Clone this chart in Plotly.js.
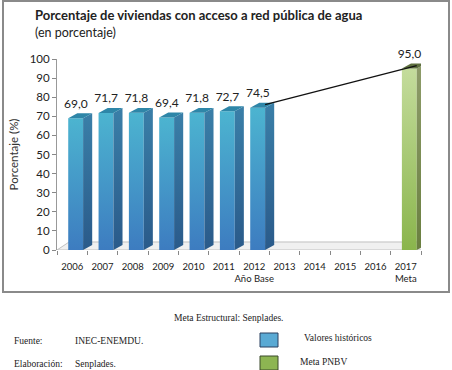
<!DOCTYPE html>
<html><head><meta charset="utf-8">
<script src="https://cdn.plot.ly/plotly-3.0.1.min.js"></script>
<style>body{margin:0;background:#fff}#c{width:452px;height:370px}</style>
</head><body><div id="c"></div>
<script>
var years = ['2006','2007','2008','2009','2010','2011','2012','2013','2014','2015','2016','2017'];
var tickSub = ['','','','','','','Año Base','','','','','Meta'];
var histYears = ['2006','2007','2008','2009','2010','2011','2012'];
var histValues = [69.0, 71.7, 71.8, 69.4, 71.8, 72.7, 74.5];
var goalYears = ['2017'];
var goalValues = [95.0];

var L = 57, R = 421, T = 59, B = 250;
function px(x){return (x-L)/(R-L);}
function py(y){return (B-y)/(B-T);}

var f0 = -0.13, f1 = 0.36, dx = 0.30, dy = 2.6;
var traces = [];
function addBar(idx, v, cols){
  var c = idx;
  traces.push({type:'scatter', x:[c+f0,c+f1,c+f1,c+f0,c+f0], y:[0,0,v,v,0], fill:'toself', mode:'lines',
    line:{width:0}, fillgradient:{type:'vertical', colorscale:[[0,cols[0]],[1,cols[1]]]}, hoverinfo:'skip', showlegend:false});
  traces.push({type:'scatter', x:[c+f1,c+f1+dx,c+f1+dx,c+f1,c+f1], y:[0,dy,v+dy,v,0], fill:'toself', mode:'lines',
    line:{width:0}, fillgradient:{type:'vertical', colorscale:[[0,cols[2]],[1,cols[3]]]}, hoverinfo:'skip', showlegend:false});
  traces.push({type:'scatter', x:[c+f0,c+f1,c+f1+dx,c+f0+dx,c+f0], y:[v,v,v+dy,v+dy,v], fill:'toself', mode:'lines',
    line:{width:0}, fillcolor:cols[4], hoverinfo:'skip', showlegend:false});
}
// floor
var fdx = 0.4, fdy = 4.2;
traces.push({type:'scatter', x:[-0.5,11.5,11.5+fdx,-0.5+fdx,-0.5], y:[0,0,fdy,fdy,0], fill:'toself', mode:'lines',
  line:{width:1,color:'#c0c0c0'}, fillcolor:'#f0f0f0', hoverinfo:'skip', showlegend:false});

histYears.forEach(function(yr,i){ addBar(years.indexOf(yr), histValues[i], ['#3d7cc0','#4cb4d0','#2a5a8a','#3a7fa8','#2e86a8']); });
goalYears.forEach(function(yr,i){ addBar(years.indexOf(yr), goalValues[i], ['#8ab54c','#c4dc9c','#6a7f40','#8e9c6a','#5f7040']); });

// trend line from base year to goal
var bi = years.indexOf(histYears[histYears.length-1]), gi = years.indexOf(goalYears[0]);
traces.push({type:'scatter', mode:'lines', x:[bi+f1, gi+f1], y:[histValues[histValues.length-1]+dy*0.6, goalValues[0]+dy*0.6],
  line:{color:'#111', width:1.3}, hoverinfo:'skip', showlegend:false});

// labels
var lx = [], ly = [], lt = [];
histYears.forEach(function(yr,i){ lx.push(years.indexOf(yr)+0.12); ly.push(histValues[i]+4); lt.push(histValues[i].toFixed(1).replace('.',',')); });
goalYears.forEach(function(yr,i){ lx.push(years.indexOf(yr)+0.12); ly.push(goalValues[i]+4); lt.push(goalValues[i].toFixed(1).replace('.',',')); });
traces.push({type:'scatter', mode:'text', x:lx, y:ly, text:lt, textposition:'top center', cliponaxis:false,
  textfont:{family:'Lato, sans-serif', size:12, color:'#222'}, hoverinfo:'skip', showlegend:false});

var ticktext = years.map(function(y,i){ return tickSub[i] ? y+'<br>'+tickSub[i] : y; });

var serif = {family:'Liberation Serif, serif', size:9.5, color:'#222'};
var annotations = [
  {xref:'paper', yref:'paper', x:px(33), y:py(15), xanchor:'left', yanchor:'middle', showarrow:false,
   text:'<b>Porcentaje de viviendas con acceso a red pública de agua</b>', font:{family:'Lato, sans-serif', size:13, color:'#222'}},
  {xref:'paper', yref:'paper', x:px(33), y:py(33), xanchor:'left', yanchor:'middle', showarrow:false,
   text:'(en porcentaje)', font:{family:'Lato, sans-serif', size:12.5, color:'#222'}},
  {xref:'paper', yref:'paper', x:px(228), y:py(318), xanchor:'center', yanchor:'middle', showarrow:false, text:'Meta Estructural: Senplades.', font:serif},
  {xref:'paper', yref:'paper', x:px(12), y:py(341), xanchor:'left', yanchor:'middle', showarrow:false, text:'Fuente:', font:serif},
  {xref:'paper', yref:'paper', x:px(73), y:py(341), xanchor:'left', yanchor:'middle', showarrow:false, text:'INEC-ENEMDU.', font:serif},
  {xref:'paper', yref:'paper', x:px(12), y:py(364), xanchor:'left', yanchor:'middle', showarrow:false, text:'Elaboración:', font:serif},
  {xref:'paper', yref:'paper', x:px(73), y:py(364), xanchor:'left', yanchor:'middle', showarrow:false, text:'Senplades.', font:serif},
  {xref:'paper', yref:'paper', x:px(302), y:py(338), xanchor:'left', yanchor:'middle', showarrow:false, text:'Valores históricos', font:serif},
  {xref:'paper', yref:'paper', x:px(298), y:py(362), xanchor:'left', yanchor:'middle', showarrow:false, text:'Meta PNBV', font:serif}
];
var shapes = [
  {type:'rect', xref:'paper', yref:'paper', x0:px(3), x1:px(449), y0:py(292), y1:py(1), line:{color:'#8a8a8a', width:2}, layer:'below'},
  {type:'rect', xref:'paper', yref:'paper', x0:px(260), x1:px(278), y0:py(347), y1:py(333), fillcolor:'#5aaad4', line:{color:'#2a4060', width:1}},
  {type:'rect', xref:'paper', yref:'paper', x0:px(260), x1:px(278), y0:py(370), y1:py(356), fillcolor:'#8db552', line:{color:'#3a4a2a', width:1}}
];

var layout = {
  width:452, height:370, margin:{l:L, r:452-R, t:T, b:370-B},
  paper_bgcolor:'#fff', plot_bgcolor:'#fff', separators:',.',
  xaxis:{type:'linear', range:[-0.5, 11.5], tickvals:years.map(function(y,i){return i;}), ticktext:ticktext,
    ticks:'', tickangle:0, ticklabelstandoff:9, showgrid:false, zeroline:false, showline:false,
    minor:{ticks:'outside', ticklen:4, tick0:-0.5, dtick:1, tickcolor:'#888', showgrid:false},
    tickfont:{family:'Lato, sans-serif', size:9.5, color:'#222'}, fixedrange:true},
  yaxis:{range:[0,100], dtick:10, ticks:'outside', ticklen:4, tickcolor:'#888', showgrid:false, zeroline:false,
    showline:true, linecolor:'#999', linewidth:1,
    tickfont:{family:'Lato, sans-serif', size:11.5, color:'#222'},
    title:{text:'Porcentaje (%)', font:{family:'Lato, sans-serif', size:11.5, color:'#333'}, standoff:8}},
  annotations:annotations, shapes:shapes
};
Plotly.newPlot('c', traces, layout, {staticPlot:true});
</script></body></html>
